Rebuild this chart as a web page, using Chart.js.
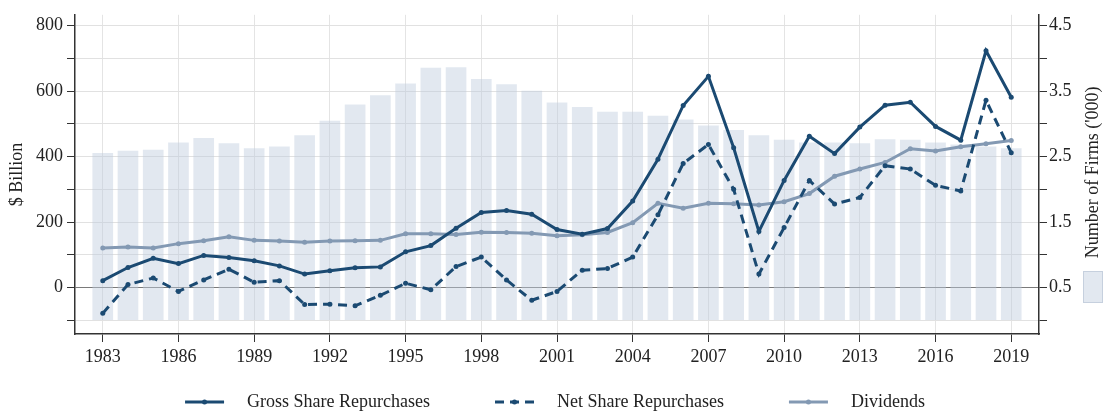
<!DOCTYPE html>
<html>
<head>
<meta charset="utf-8">
<script src="https://cdn.jsdelivr.net/npm/chart.js@4.4.1/dist/chart.umd.min.js"></script>
<style>
  body { margin: 0; background: #fff; }
  #wrap { width: 1106px; height: 414px; }
</style>
</head>
<body>
<div id="wrap"><canvas id="myChart" width="1106" height="414"></canvas></div>
<script>
// years on the x axis
var years = [1983,1984,1985,1986,1987,1988,1989,1990,1991,1992,1993,1994,1995,1996,1997,1998,1999,2000,
  2001,2002,2003,2004,2005,2006,2007,2008,2009,2010,2011,2012,2013,2014,2015,2016,2017,2018,2019]
var yearTicks = [1983,1986,1989,1992,1995,1998,2001,2004,2007,2010,2013,2016,2019]

// $ billion
var gross = [21,61,89,73,98,92,82,66,41,51,60,63,109,128,181,229,235,224,177,163,180,264,392,556,645,427,
  171,327,462,409,490,557,566,492,450,723,581]
var net = [-79,9,29,-12,23,56,16,21,-52,-51,-56,-24,13,-7,64,93,23,-39,-12,53,58,93,222,379,437,300,
  41,183,327,255,275,372,362,312,295,572,412]
var dividends = [121,124,121,134,143,155,144,142,138,142,143,144,164,164,162,169,168,166,158,161,168,198,257,242,257,256,
  252,262,287,340,362,382,424,417,430,439,449]

// number of firms ('000), right axis
var firms = [2.55,2.585,2.60,2.71,2.78,2.70,2.62,2.65,2.82,3.04,3.29,3.43,3.61,3.85,3.86,3.68,3.60,3.50,3.32,3.25,
  3.18,3.18,3.12,3.06,2.97,2.90,2.82,2.75,2.71,2.71,2.70,2.76,2.75,2.71,2.68,2.65,2.62]

var leftTicks = [-100,0,100,200,300,400,500,600,700,800]
var rightTicks = [0,0.5,1,1.5,2,2.5,3,3.5,4,4.5]

var darkBlue = '#1b4a72'
var greyBlue = '#8399b3'
var barColor = 'rgba(190,204,222,0.45)'
var fontFamily = "'Liberation Serif', 'Times New Roman', serif"

Chart.defaults.font.family = fontFamily
Chart.defaults.font.size = 18
Chart.defaults.color = '#222'

function points(values){
  return values.map(function(v, i){ return { x: years[i], y: v } })
}

// legend at the bottom + the small box under the right axis title
var extrasPlugin = {
  id: 'extras',
  afterDraw: function(chart){
    var ctx = chart.ctx
    var area = chart.chartArea
    ctx.save()

    // right axis title, reading upwards
    ctx.font = '18px ' + fontFamily
    ctx.fillStyle = '#222'
    ctx.textAlign = 'center'
    ctx.textBaseline = 'middle'
    ctx.save()
    ctx.translate(1093, (area.top + area.bottom) / 2 - 2)
    ctx.rotate(-Math.PI / 2)
    ctx.fillText("Number of Firms ('000)", 0, 0)
    ctx.restore()

    ctx.fillStyle = barColor
    ctx.fillRect(1083, 271, 20, 32)
    ctx.strokeStyle = 'rgba(180,192,210,0.6)'
    ctx.lineWidth = 1
    ctx.strokeRect(1083.5, 271.5, 19, 31)

    // legend
    var items = [
      { text: 'Gross Share Repurchases', color: darkBlue, dash: [] },
      { text: 'Net Share Repurchases', color: darkBlue, dash: [9, 6] },
      { text: 'Dividends', color: greyBlue, dash: [] }
    ]
    var symW = 39, textGap = 23, itemGap = 65
    var total = 0
    items.forEach(function(it){
      it.w = symW + textGap + ctx.measureText(it.text).width
      total += it.w
    })
    total += itemGap * (items.length - 1)
    var x = chart.width / 2 - total / 2 + 2
    var y = 402
    items.forEach(function(it){
      ctx.strokeStyle = it.color
      ctx.lineWidth = 3
      ctx.setLineDash(it.dash)
      ctx.beginPath()
      ctx.moveTo(x, y)
      ctx.lineTo(x + symW, y)
      ctx.stroke()
      ctx.setLineDash([])
      ctx.fillStyle = it.color
      ctx.beginPath()
      ctx.arc(x + symW / 2, y, 2.5, 0, Math.PI * 2)
      ctx.fill()
      ctx.fillStyle = '#222'
      ctx.textAlign = 'left'
      ctx.fillText(it.text, x + symW + textGap, y)
      x += it.w + itemGap
    })
    ctx.restore()
  }
}

var ctx = document.getElementById('myChart').getContext('2d')
var myChart = new Chart(ctx, {
  data: {
    datasets: [
      {
        type: 'line',
        label: 'Gross Share Repurchases',
        data: points(gross),
        borderColor: darkBlue,
        backgroundColor: darkBlue,
        borderWidth: 3,
        pointRadius: 2.5,
        pointBorderWidth: 0,
        tension: 0,
        yAxisID: 'y',
        order: 1
      },
      {
        type: 'line',
        label: 'Net Share Repurchases',
        data: points(net),
        borderColor: darkBlue,
        backgroundColor: darkBlue,
        borderWidth: 3,
        borderDash: [9, 6],
        pointRadius: 2.5,
        pointBorderWidth: 0,
        tension: 0,
        yAxisID: 'y',
        order: 2
      },
      {
        type: 'line',
        label: 'Dividends',
        data: points(dividends),
        borderColor: greyBlue,
        backgroundColor: greyBlue,
        borderWidth: 3,
        pointRadius: 2.5,
        pointBorderWidth: 0,
        tension: 0,
        yAxisID: 'y',
        order: 3
      },
      {
        type: 'bar',
        label: "Number of Firms ('000)",
        data: points(firms),
        backgroundColor: barColor,
        barThickness: 20,
        yAxisID: 'y2',
        order: 10
      }
    ]
  },
  options: {
    responsive: false,
    animation: false,
    layout: { padding: { top: 10, left: 0, right: 0, bottom: 0 } },
    plugins: {
      legend: { display: false },
      tooltip: { enabled: false }
    },
    scales: {
      x: {
        type: 'linear',
        offset: false,
        min: 1981.9,
        max: 2020.1,
        afterBuildTicks: function(scale){
          scale.ticks = yearTicks.map(function(v){ return { value: v } })
        },
        afterFit: function(scale){ scale.height = 80 },
        ticks: { padding: 4, maxRotation: 0, callback: function(v){ return String(v) } },
        grid: { offset: false, color: '#e4e4e4', tickColor: '#333', tickLength: 8 },
        border: { color: '#333', width: 1.5 }
      },
      y: {
        position: 'left',
        min: -142,
        max: 833,
        afterBuildTicks: function(scale){
          scale.ticks = leftTicks.map(function(v){ return { value: v } })
        },
        afterFit: function(scale){ scale.width = 75 },
        ticks: {
          padding: 4,
          callback: function(v){ return (v >= 0 && v % 200 === 0) ? String(v) : '' }
        },
        grid: {
          color: function(c){ return c.tick && c.tick.value === 0 ? '#7a7a7a' : '#e1e1e1' },
          tickColor: '#333',
          tickLength: 8
        },
        border: { color: '#333', width: 1.5 },
        title: { display: true, text: '$ Billion', padding: { top: 6, bottom: 0 } }
      },
      y2: {
        position: 'right',
        min: -0.21,
        max: 4.665,
        afterBuildTicks: function(scale){
          scale.ticks = rightTicks.map(function(v){ return { value: v } })
        },
        afterFit: function(scale){ scale.width = 67 },
        ticks: {
          padding: 2,
          callback: function(v){ return (Math.round(v * 10) % 10 === 5) ? v.toFixed(1) : '' }
        },
        grid: { drawOnChartArea: false, tickColor: '#333', tickLength: 8 },
        border: { color: '#333', width: 1.5 }
      }
    }
  },
  plugins: [extrasPlugin]
})
</script>
</body>
</html>
